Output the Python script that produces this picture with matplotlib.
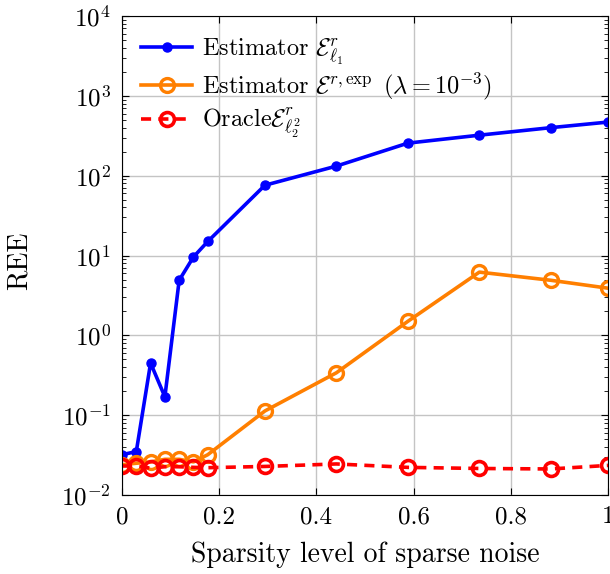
import matplotlib.pyplot as plt
import numpy as np

plt.rcParams['font.family'] = 'serif'
plt.rcParams['font.serif'] = ['cmr10']
plt.rcParams['mathtext.fontset'] = 'cm'
plt.rcParams['axes.formatter.use_mathtext'] = True

sparsity = [0, 1/34, 2/34, 3/34, 4/34, 5/34, 6/34, 10/34, 15/34, 20/34, 25/34, 30/34, 1.0]
ree_l1 = [0.032, 0.035, 0.45, 0.17, 4.9, 9.6, 15, 76, 132, 256, 322, 400, 470]
ree_exp = [0.024, 0.025, 0.026, 0.028, 0.028, 0.026, 0.032, 0.113, 0.34, 1.5, 6.2, 4.9, 3.9]
ree_oracle = [0.0231, 0.0231, 0.0217, 0.0226, 0.0226, 0.0222, 0.022, 0.0228, 0.0245, 0.0222, 0.0215, 0.0212, 0.0235]

xticks = [0, 0.2, 0.4, 0.6, 0.8, 1]
xticklabels = ['0', '0.2', '0.4', '0.6', '0.8', '1']

fig = plt.figure(figsize=(6.1, 5.74), dpi=100)
ax = fig.add_axes([0.2, 0.1376, 0.7967, 0.8344])

ax.plot(sparsity, ree_l1, color='blue', marker='o', ms=6.5, lw=2.6,
        label=r'Estimator $\mathcal{E}^r_{\ell_1}$')
ax.plot(sparsity, ree_exp, color='#ff7f00', marker='o', ms=10, mfc='none', mew=2.4, lw=2.6,
        label=r'Estimator $\mathcal{E}^{r,\exp}$ $(\lambda = 10^{-3})$')
ax.plot(sparsity, ree_oracle, color='red', marker='o', ms=10, mfc='none', mew=2.6, lw=2.6,
        linestyle=(0, (2.8, 2)), label=r'Oracle$\mathcal{E}^r_{\ell_2^2}$')

ax.set_yscale('log')
ax.set_ylim(1e-2, 1e4)
ax.set_xlim(0, 1)
ax.set_xticks(xticks)
ax.set_xticklabels(xticklabels)
ax.tick_params(which='both', direction='in', top=True, right=True, labelsize=18)
ax.tick_params(which='major', length=5, pad=8)
ax.tick_params(which='minor', length=3)
ax.grid(True, which='major', color='#c4c4c4', lw=1)
ax.set_axisbelow(True)
ax.set_xlabel('Sparsity level of sparse noise', fontsize=20)
ax.set_ylabel('REE', fontsize=20)
ax.xaxis.set_label_coords(0.5, -0.098)
ax.yaxis.set_label_coords(-0.183, 0.49)

ax.legend(loc='upper left', bbox_to_anchor=(0.02, 0.978), frameon=False, fontsize=17.5,
          handlelength=2.1, handletextpad=0.4, borderaxespad=0.0, labelspacing=0.15)

fig.savefig('out.png', dpi=100)
